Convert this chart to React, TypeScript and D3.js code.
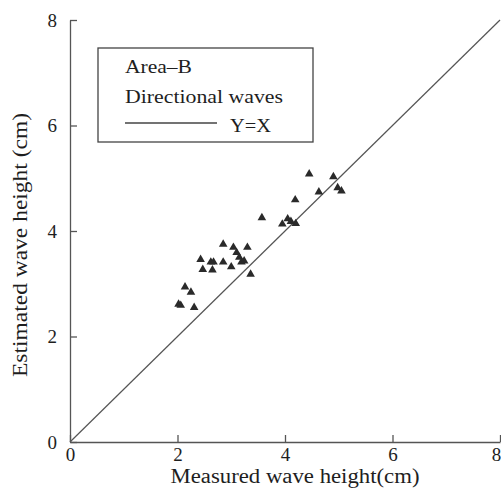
import React, { useRef, useEffect } from 'react';
import * as d3 from 'd3';

// measured vs estimated wave height (cm)
const measured = [
  4.45, 4.90, 4.63, 4.98, 5.05, 4.19, 3.57, 3.95, 4.05, 4.11, 4.20,
  2.85, 3.04, 3.30, 3.10, 3.15, 3.19, 3.24, 2.43, 2.62, 2.67, 2.85,
  2.47, 2.65, 3.00, 3.36, 2.14, 2.25, 2.06, 2.02, 2.31,
];
const estimated = [
  5.08, 5.03, 4.74, 4.82, 4.76, 4.59, 4.25, 4.13, 4.23, 4.18, 4.14,
  3.75, 3.69, 3.69, 3.59, 3.50, 3.41, 3.43, 3.46, 3.41, 3.41, 3.41,
  3.27, 3.26, 3.32, 3.18, 2.94, 2.84, 2.59, 2.61, 2.55,
];
const ticks = [0, 2, 4, 6, 8];
const legendLines = ['Area\u2013B', 'Directional waves'];
const xTitle = 'Measured wave height(cm)';
const yTitle = 'Estimated wave height (cm)';

const FONT = '"Liberation Serif", "DejaVu Serif", serif';
const INK = '#1e1e1e';

const App = () => {
  const svgRef = useRef<SVGSVGElement>(null);

  useEffect(() => {
    const width = 501;
    const height = 494;

    d3.select(svgRef.current).selectAll('*').remove();
    const svg = d3.select(svgRef.current)
      .attr('width', width)
      .attr('height', height);

    const x = d3.scaleLinear().domain([0, 8]).range([70, 500]);
    const y = d3.scaleLinear().domain([0, 8]).range([442, 20]);

    // X axis, ticks pointing inward
    const gx = svg.append('g')
      .attr('transform', `translate(0,${y(0)})`)
      .call(d3.axisBottom(x).tickValues(ticks).tickSizeInner(-7).tickSizeOuter(0).tickPadding(6));
    // Y axis
    const gy = svg.append('g')
      .attr('transform', `translate(${x(0)},0)`)
      .call(d3.axisLeft(y).tickValues(ticks).tickSizeInner(-7).tickSizeOuter(0).tickPadding(13));

    [gx, gy].forEach(g => {
      g.selectAll('path, line').attr('stroke', '#555').attr('stroke-width', 1.3);
      g.selectAll('text')
        .attr('fill', INK)
        .style('font-family', FONT)
        .style('font-size', '19px');
    });
    // last x label sits on the page edge; nudge it inside
    gx.selectAll('.tick text').filter(d => d === 8).attr('dx', -4);

    // Y = X reference line
    svg.append('line')
      .attr('x1', x(0)).attr('y1', y(0))
      .attr('x2', x(8)).attr('y2', y(8))
      .attr('stroke', '#555')
      .attr('stroke-width', 1.2);

    // triangles
    const tri = d3.symbol().type(d3.symbolTriangle).size(32);
    svg.selectAll('.pt')
      .data(measured.map((m, i) => [m, estimated[i]]))
      .enter()
      .append('path')
      .attr('class', 'pt')
      .attr('d', tri)
      .attr('transform', d => `translate(${x(d[0])},${y(d[1])})`)
      .attr('fill', '#2a2a2a');

    // legend box
    svg.append('rect')
      .attr('x', 98).attr('y', 48)
      .attr('width', 215).attr('height', 94)
      .attr('fill', 'none')
      .attr('stroke', '#444')
      .attr('stroke-width', 1.3);

    const lg = svg.append('g').style('font-family', FONT).style('font-size', '19px').attr('fill', INK);
    lg.append('text').attr('x', 125).attr('y', 73)
      .attr('textLength', 67).attr('lengthAdjust', 'spacingAndGlyphs').text(legendLines[0]);
    lg.append('text').attr('x', 125).attr('y', 103)
      .attr('textLength', 158).attr('lengthAdjust', 'spacingAndGlyphs').text(legendLines[1]);
    svg.append('line')
      .attr('x1', 125).attr('x2', 217)
      .attr('y1', 123).attr('y2', 123)
      .attr('stroke', '#444').attr('stroke-width', 1.3);
    lg.append('text').attr('x', 230).attr('y', 132)
      .attr('textLength', 41).attr('lengthAdjust', 'spacingAndGlyphs').text('Y=X');

    // axis titles
    svg.append('text')
      .attr('x', 295).attr('y', 483)
      .attr('text-anchor', 'middle')
      .attr('textLength', 249).attr('lengthAdjust', 'spacingAndGlyphs')
      .style('font-family', FONT).style('font-size', '20px')
      .attr('fill', INK)
      .text(xTitle);

    svg.append('text')
      .attr('transform', 'translate(27,245) rotate(-90)')
      .attr('text-anchor', 'middle')
      .attr('textLength', 264).attr('lengthAdjust', 'spacingAndGlyphs')
      .style('font-family', FONT).style('font-size', '20px')
      .attr('fill', INK)
      .text(yTitle);
  }, []);

  return <svg ref={svgRef} style={{ position: 'absolute', left: 0, top: 0, background: '#fff' }}></svg>;
};

export default App;
